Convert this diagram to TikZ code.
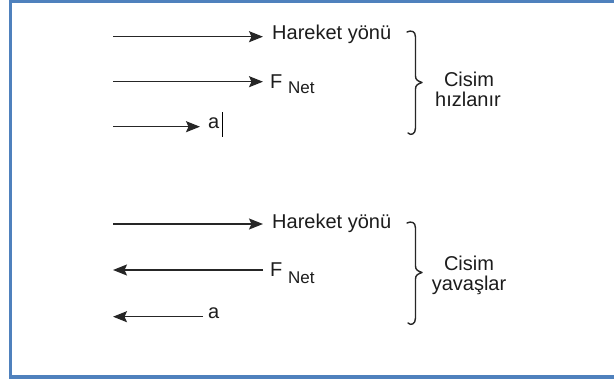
\documentclass[tikz,border=0pt]{standalone}
\usepackage{fontspec}
\setmainfont{Liberation Sans}
\usetikzlibrary{arrows.meta}
\definecolor{frameblue}{HTML}{4F81BD}
\definecolor{ink}{HTML}{1C1C1C}
\definecolor{lineink}{HTML}{262626}
\tikzset{
  vec/.style={draw=lineink, line width=1.4pt, -{Stealth[length=14pt,width=11pt,inset=2.5pt]}},
  lbl/.style={anchor=base west, inner sep=0pt, text=ink, font=\fontsize{20}{24}\selectfont},
  sublbl/.style={anchor=base west, inner sep=0pt, text=ink, font=\fontsize{17}{20}\selectfont},
  res/.style={anchor=base, inner sep=0pt, text=ink, font=\fontsize{20}{24}\selectfont},
  bracepath/.style={draw=lineink, line width=1.4pt, line cap=round, line join=round},
}
\begin{document}
\begin{tikzpicture}[x=1pt, y=-1pt]
\clip (0,0) rectangle (614,380);
\fill[white] (0,0) rectangle (614,380);
% frame (its right side lies outside the page)
\draw[frameblue, line width=3.6pt] (10.3,1.5) rectangle (700,377);

% --- accelerating body ---
\coordinate (v1s) at (113,36.7);  \coordinate (v1e) at (263,36.7);
\coordinate (f1s) at (113,81.7);  \coordinate (f1e) at (263,81.7);
\coordinate (a1s) at (113,126.7); \coordinate (a1e) at (200,126.7);
\draw[vec] (v1s) -- (v1e);
\draw[vec] (f1s) -- (f1e);
\draw[vec] (a1s) -- (a1e);
\node[lbl] (dir1) at (272,39.3) {Hareket yönü};
\node[lbl] (F1) at (270,88.5) {F};
\node[sublbl] (N1) at (288,93) {Net};
\node[lbl] (acc1) at (208,128.3) {a};
\coordinate (cur1) at (222.7,112); \coordinate (cur2) at (222.7,137);
\draw[black, line width=1pt] (cur1) -- (cur2);
\draw[bracepath] (407,32) .. controls (411,30) and (415.5,31) .. (415.5,37)
  -- (415.5,76) .. controls (415.5,80) and (418,81) .. (422,82.5)
  .. controls (418,84) and (415.5,85) .. (415.5,89)
  -- (415.5,128) .. controls (415.5,134) and (411,136) .. (408,133);
\node[res] (c1) at (469,86.7) {Cisim};
\node[res] (r1) at (468,106.7) {hızlanır};

% --- decelerating body ---
\coordinate (v2s) at (113,224);   \coordinate (v2e) at (263,224);
\coordinate (f2s) at (263,270);   \coordinate (f2e) at (113,270);
\coordinate (a2s) at (203,316.7); \coordinate (a2e) at (113,316.7);
\draw[vec] (v2s) -- (v2e);
\draw[vec] (f2s) -- (f2e);
\draw[vec] (a2s) -- (a2e);
\node[lbl] (dir2) at (272,228.5) {Hareket yönü};
\node[lbl] (F2) at (270,276.7) {F};
\node[sublbl] (N2) at (288,283) {Net};
\node[lbl] (acc2) at (208,318.3) {a};
\draw[bracepath] (407,223) .. controls (411,221) and (415.5,222) .. (415.5,228)
  -- (415.5,266) .. controls (415.5,270) and (418,271) .. (422,272.5)
  .. controls (418,274) and (415.5,275) .. (415.5,279)
  -- (415.5,318) .. controls (415.5,324) and (411,326) .. (408,323);
\node[res] (c2) at (469,270.7) {Cisim};
\node[res] (r2) at (469,290.5) {yavaşlar};
\end{tikzpicture}
\end{document}
